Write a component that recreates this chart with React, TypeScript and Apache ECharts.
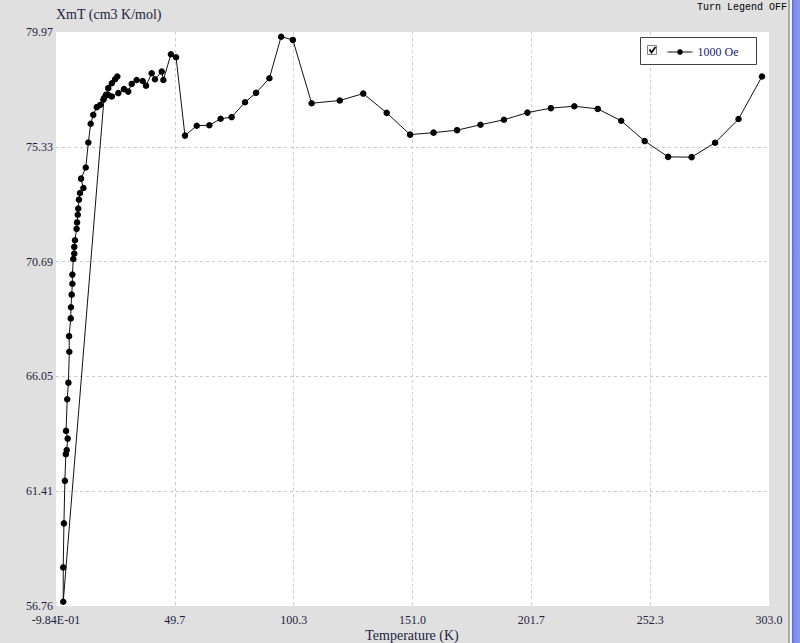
import React, { useEffect, useRef } from 'react';
import * as echarts from 'echarts';

// Measurement order: cooling steps 300 K -> ~19.5 K, then a dense sweep from 2 K upward
const tempK = [
  300, 290, 280, 270, 260, 250, 240, 230, 220, 210, 200, 190, 180, 170, 160, 150,
  140, 130, 120, 108, 100, 95, 90, 84.3, 79.6, 73.9, 69.2, 64.4, 59, 54, 50.2, 48,
  44.8, 44.1, 41.2, 39.8, 37.4, 36, 33.4, 31.3, 29.8, 28, 25.6, 22.8, 21.2, 19.5,
  2.1, 2.1, 2.4, 2.8, 3.2, 3.6, 4.0, 3.3, 3.8, 4.3, 4.7, 4.6, 5.3, 5.4, 5.7, 6.0,
  6.0, 6.4, 6.8, 6.8, 7.1, 7.8, 8.0, 8.3, 8.5, 8.8, 9.25, 10.7, 9.7, 11.7, 12.8,
  13.8, 14.9, 16.4, 17.8, 19.2, 20.3, 21.3, 22.8, 24.2, 25.15,
];
const xmT = [
  78.17, 76.45, 75.49, 74.91, 74.92, 75.56, 76.38, 76.86, 76.97, 76.89, 76.71, 76.42, 76.22, 76.0, 75.9, 75.82,
  76.7, 77.48, 77.2, 77.09, 79.65, 79.78, 78.1, 77.51, 77.13, 76.53, 76.46, 76.2, 76.18, 75.78, 78.95, 79.07,
  78.03, 78.37, 78.06, 78.3, 77.8, 77.99, 78.03, 77.87, 77.56, 77.66, 77.5, 77.36, 77.43, 77.3,
  56.93, 58.32, 60.1, 61.82, 62.9, 63.07, 63.53, 63.84, 65.12, 65.79, 67.04, 67.67, 68.39, 68.84, 69.35, 69.79,
  70.16, 70.79, 71.01, 71.28, 71.55, 72.01, 72.27, 72.58, 72.83, 73.19, 73.46, 73.66, 74.04, 74.49, 75.5,
  76.26, 76.62, 76.93, 77.02, 77.23, 77.43, 77.7, 77.9, 78.06, 78.17,
];

const xTickValues = [-0.984, 49.68, 100.344, 151.008, 201.672, 252.336, 303.0];
const xTickLabels = ['-9.84E-01', '49.7', '100.3', '151.0', '201.7', '252.3', '303.0'];
const yTickValues = [56.76, 61.402, 66.044, 70.686, 75.328, 79.97];
const yTickLabels = ['56.76', '61.41', '66.05', '70.69', '75.33', '79.97'];
const seriesName = '1000 Oe';
const xTitle = 'Temperature (K)';
const yTitle = 'XmT (cm3 K/mol)';
const toggleText = 'Turn Legend OFF';

const SERIF = '"Liberation Serif", "Times New Roman", serif';
const TEXT = '#1e1e40';

function pick(values: number[], labels: string[]) {
  return (v: number) => {
    let best = 0;
    for (let i = 1; i < values.length; i++) {
      if (Math.abs(values[i] - v) < Math.abs(values[best] - v)) best = i;
    }
    return labels[best];
  };
}

export default function App() {
  const ref = useRef<HTMLDivElement>(null);
  useEffect(() => {
    if (!ref.current) return;
    const chart = echarts.init(ref.current, null, { renderer: 'svg' });
    const data = tempK.map((t, i) => [t, xmT[i]]);
    chart.setOption({
      animation: false,
      backgroundColor: '#e0e0e0',
      grid: {
        left: 56, top: 32, width: 713, height: 574,
        outerBoundsMode: 'none', containLabel: false,
        show: true, backgroundColor: '#ffffff', borderWidth: 0,
      },
      xAxis: {
        type: 'value', min: -0.984, max: 303,
        axisLine: { show: false },
        axisTick: { show: false, customValues: xTickValues },
        axisLabel: {
          customValues: xTickValues, formatter: pick(xTickValues, xTickLabels),
          fontFamily: SERIF, fontSize: 12, color: TEXT, margin: 8, showMinLabel: true, showMaxLabel: true,
        },
        splitLine: {
          show: true, showMinLine: false, showMaxLine: false,
          lineStyle: { type: [3, 3], color: '#cccccc', width: 1 },
        },
      },
      yAxis: {
        type: 'value', min: 56.76, max: 79.97,
        axisLine: { show: false },
        axisTick: { show: false, customValues: yTickValues },
        axisLabel: {
          customValues: yTickValues, formatter: pick(yTickValues, yTickLabels),
          fontFamily: SERIF, fontSize: 12, color: TEXT, margin: 3, showMinLabel: true, showMaxLabel: true,
        },
        splitLine: {
          show: true, showMinLine: false, showMaxLine: false,
          lineStyle: { type: [3, 3], color: '#cccccc', width: 1 },
        },
      },
      legend: {
        show: true, data: [seriesName], left: 667, top: 46, itemWidth: 25, itemHeight: 7,
        padding: 0, selectedMode: false, z: 10,
        lineStyle: { width: 1 },
        textStyle: { fontFamily: SERIF, fontSize: 12, color: '#1a1a70' },
      },
      series: [
        {
          name: seriesName, type: 'line', data,
          symbol: 'circle', symbolSize: 6.5, showAllSymbol: true,
          itemStyle: { color: '#000000' },
          lineStyle: { color: '#111111', width: 1 },
          z: 3,
        },
      ],
      graphic: [
        {
          type: 'rect', z: 5, shape: { x: 640.5, y: 37.5, width: 116, height: 27 },
          style: { fill: '#ffffff', stroke: '#404040', lineWidth: 1 },
        },
        {
          type: 'rect', z: 6, shape: { x: 647.5, y: 45.5, width: 9, height: 9 },
          style: { fill: '#f6f6f6', stroke: '#808080', lineWidth: 1 },
        },
        {
          type: 'polyline', z: 7, shape: { points: [[649.5, 49.5], [651.5, 52.5], [655.5, 47]] },
          style: { stroke: '#000000', lineWidth: 1.6, fill: 'none' },
        },
        {
          type: 'text', z: 6, x: 56, y: 14,
          style: { text: yTitle, font: '14px ' + SERIF, fill: TEXT, verticalAlign: 'middle', align: 'left' },
        },
        {
          type: 'text', z: 6, x: 412, y: 642,
          style: { text: xTitle, font: '14px ' + SERIF, fill: TEXT, verticalAlign: 'bottom', align: 'center' },
        },
        {
          type: 'text', z: 6, x: 787, y: 7,
          style: {
            text: toggleText, font: '10px "Liberation Mono", "DejaVu Sans Mono", monospace',
            fill: '#000000', verticalAlign: 'middle', align: 'right',
          },
        },
        {
          type: 'rect', z: 6, shape: { x: 788.5, y: 0, width: 1.2, height: 643 },
          style: { fill: '#707070' },
        },
        {
          type: 'rect', z: 6, shape: { x: 789.7, y: 0, width: 2.3, height: 643 },
          style: { fill: '#f0f0f0' },
        },
        {
          type: 'rect', z: 6, shape: { x: 792, y: 0, width: 8, height: 643 },
          style: {
            fill: new echarts.graphic.LinearGradient(0, 0, 1, 0, [
              { offset: 0, color: '#5a6ad0' },
              { offset: 0.3, color: '#7c8ce8' },
              { offset: 1, color: '#8a98ee' },
            ]),
          },
        },
      ],
    });
    return () => chart.dispose();
  }, []);
  return (
    <div
      ref={ref}
      style={{ position: 'fixed', left: 0, top: 0, width: 800, height: 643 }}
    />
  );
}
